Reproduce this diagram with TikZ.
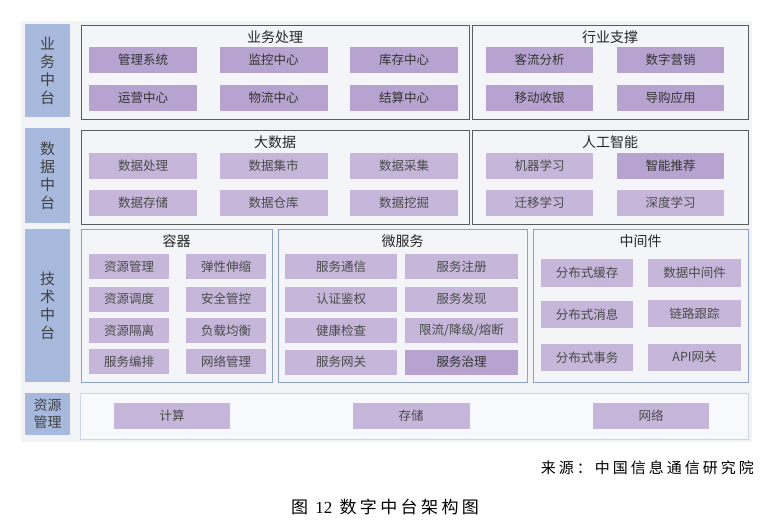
\documentclass[tikz,border=0pt]{standalone}
\usepackage{fontspec}
\usetikzlibrary{positioning}
\newfontfamily\cjk{Noto Sans CJK SC}
\newfontfamily\cjkspaced[LetterSpace=20]{Noto Sans CJK SC}
\newfontfamily\serifnum{Liberation Serif}
\definecolor{bgpanel}{HTML}{F2F3F7}
\definecolor{layerblue}{HTML}{A7B9DD}
\definecolor{labelgray}{HTML}{404040}
\definecolor{groupfill}{HTML}{F4F5F9}
\definecolor{groupline}{HTML}{5C5C5C}
\definecolor{techline}{HTML}{8EA0BF}
\definecolor{baseline}{HTML}{CDD5E4}
\definecolor{basefill}{HTML}{F8F9FC}
\definecolor{itemdark}{HTML}{B6A3CF}
\definecolor{itemlight}{HTML}{C5B6DA}
\definecolor{itemtext}{HTML}{4A4A4A}

\begin{document}
\begin{tikzpicture}
                [
                    x=1pt, y=-1pt,
                    layer/.style = {rectangle, fill=layerblue, text=labelgray, align=center, inner sep=0pt, font=\cjk\fontsize{15}{18}\selectfont},
                    group/.style = {rectangle, draw=groupline, fill=groupfill, line width=0.7pt, inner sep=0pt},
                    techgroup/.style = {group, draw=techline},
                    title/.style = {inner sep=0pt, text=black!85, font=\cjk\fontsize{14}{16}\selectfont},
                    item/.style = {rectangle, fill=itemlight, text=itemtext, minimum height=26pt, inner sep=0pt, font=\cjk\fontsize{12.5}{14}\selectfont},
                    itemhi/.style = {item, fill=itemdark, text=black!80}
                ]

                \useasboundingbox (0,0) rectangle (774,522);
                \node (panel) [fill=bgpanel, inner sep=0pt, minimum width=731pt, minimum height=421pt] at (386.5,231.5) {};

                % 业务中台
                \node (ywzt) [layer, minimum width=45pt, minimum height=93pt] at (47.5,70.5) {业\\务\\中\\台};
                \node (ywcl) [group, minimum width=388pt, minimum height=94pt] at (275,72) {};
                \node (hyzc) [group, minimum width=276pt, minimum height=94pt] at (610,72) {};
                \node[title, below=6pt of ywcl.north] {业务处理};
                \node[title, below=6pt of hyzc.north] {行业支撑};
                \node (glxt) [itemhi, minimum width=108pt] at (143,60) {管理系统};
                \node (jkzx) [itemhi, minimum width=108pt] at (273.5,60) {监控中心};
                \node (kczx) [itemhi, minimum width=108pt] at (404,60) {库存中心};
                \node (yyzx) [itemhi, minimum width=108pt] at (143,98) {运营中心};
                \node (wlzx) [itemhi, minimum width=108pt] at (273.5,98) {物流中心};
                \node (jszx) [itemhi, minimum width=108pt] at (404,98) {结算中心};
                \node (klfx) [itemhi, minimum width=107pt] at (539.5,60) {客流分析};
                \node (szyx) [itemhi, minimum width=107pt] at (670.5,60) {数字营销};
                \node (ydsy) [itemhi, minimum width=107pt] at (539.5,98) {移动收银};
                \node (dgyy) [itemhi, minimum width=107pt] at (670.5,98) {导购应用};

                % 数据中台
                \node (sjzt) [layer, minimum width=45pt, minimum height=95pt] at (47.5,175.5) {数\\据\\中\\台};
                \node (dsj) [group, minimum width=388pt, minimum height=94pt] at (275,177) {};
                \node (rgzn) [group, minimum width=276pt, minimum height=94pt] at (610,177) {};
                \node[title, below=6pt of dsj.north] {大数据};
                \node[title, below=6pt of rgzn.north] {人工智能};
                \node (sjcl) [item, minimum width=108pt] at (143,165.5) {数据处理};
                \node (sjjs) [item, minimum width=108pt] at (273.5,165.5) {数据集市};
                \node (sjcj) [item, minimum width=108pt] at (404,165.5) {数据采集};
                \node (sjcc) [item, minimum width=108pt] at (143,203) {数据存储};
                \node (sjck) [item, minimum width=108pt] at (273.5,203) {数据仓库};
                \node (sjwj) [item, minimum width=108pt] at (404,203) {数据挖掘};
                \node (jqxx) [item, minimum width=107pt] at (539.5,165.5) {机器学习};
                \node (zntj) [itemhi, minimum width=107pt] at (670.5,165.5) {智能推荐};
                \node (qyxx) [item, minimum width=107pt] at (539.5,203) {迁移学习};
                \node (sdxx) [item, minimum width=107pt] at (670.5,203) {深度学习};

                % 技术中台
                \node (jszt) [layer, minimum width=45pt, minimum height=153pt] at (47.5,305.5) {技\\术\\中\\台};
                \node (rq) [techgroup, minimum width=191pt, minimum height=153pt] at (176.5,305.5) {};
                \node (wfw) [techgroup, minimum width=249pt, minimum height=153pt] at (402.5,305.5) {};
                \node (zjj) [techgroup, minimum width=215pt, minimum height=153pt] at (640.5,305.5) {};
                \node[title, below=6pt of rq.north] {容器};
                \node[title, below=6pt of wfw.north] {微服务};
                \node[title, below=6pt of zjj.north] {中间件};
                \node (zygl) [item, minimum width=80pt, minimum height=25pt] at (129,266.5) {资源管理};
                \node (txss) [item, minimum width=80pt, minimum height=25pt] at (226,266.5) {弹性伸缩};
                \node (zydd) [item, minimum width=80pt, minimum height=25pt] at (129,299) {资源调度};
                \node (aqgk) [item, minimum width=80pt, minimum height=25pt] at (226,299) {安全管控};
                \node (zygli) [item, minimum width=80pt, minimum height=25pt] at (129,330.5) {资源隔离};
                \node (fzjh) [item, minimum width=80pt, minimum height=25pt] at (226,330.5) {负载均衡};
                \node (fwbp) [item, minimum width=80pt, minimum height=25pt] at (129,361.5) {服务编排};
                \node (wlgl) [item, minimum width=80pt, minimum height=25pt] at (226,361.5) {网络管理};
                \node (fwtx) [item, minimum width=112pt, minimum height=25pt] at (341,266.5) {服务通信};
                \node (fwzc) [item, minimum width=113pt, minimum height=25pt] at (461.5,266.5) {服务注册};
                \node (rzjq) [item, minimum width=112pt, minimum height=25pt] at (341,299) {认证鉴权};
                \node (fwfx) [item, minimum width=113pt, minimum height=25pt] at (461.5,299) {服务发现};
                \node (jkjc) [item, minimum width=112pt, minimum height=25pt] at (341,330.5) {健康检查};
                \node (xlrd) [item, minimum width=113pt, minimum height=25pt] at (461.5,330.5) {限流/降级/熔断};
                \node (fwwg) [item, minimum width=112pt, minimum height=25pt] at (341,362) {服务网关};
                \node (fwzl) [itemhi, minimum width=113pt, minimum height=25pt] at (461.5,362) {服务治理};
                \node (fbhc) [item, minimum width=92pt, minimum height=28pt] at (587,272.5) {分布式缓存};
                \node (sjzjj) [item, minimum width=93pt, minimum height=28pt] at (694.5,272.5) {数据中间件};
                \node (fbxx) [item, minimum width=92pt, minimum height=27pt] at (587,314.5) {分布式消息};
                \node (llgz) [item, minimum width=93pt, minimum height=27pt] at (694.5,313.5) {链路跟踪};
                \node (fbsw) [item, minimum width=92pt, minimum height=27pt] at (587,357.5) {分布式事务};
                \node (apiwg) [item, minimum width=93pt, minimum height=27pt] at (694.5,357) {API网关};

                % 资源管理
                \node (zyglc) [layer, minimum width=45pt, minimum height=42pt, font=\cjk\fontsize{14}{17}\selectfont] at (47.5,414) {资源\\管理};
                \node (jc) [rectangle, draw=baseline, fill=basefill, line width=0.7pt, inner sep=0pt, minimum width=668pt, minimum height=46pt] at (414,416) {};
                \node (js) [item, minimum width=116pt] at (172,416) {计算};
                \node (cc) [item, minimum width=117pt] at (411,416) {存储};
                \node (wl) [item, minimum width=116pt] at (651,416) {网络};

                \node (source) [anchor=east, inner sep=0pt, font=\cjkspaced\fontsize{15}{17}\selectfont] at (754,468) {来源：中国信息通信研究院};
                \node (caption) [inner sep=0pt, font=\cjkspaced\fontsize{17}{19}\selectfont] at (385,507) {图 {\serifnum 12} 数字中台架构图};

            \end{tikzpicture}
\end{document}
